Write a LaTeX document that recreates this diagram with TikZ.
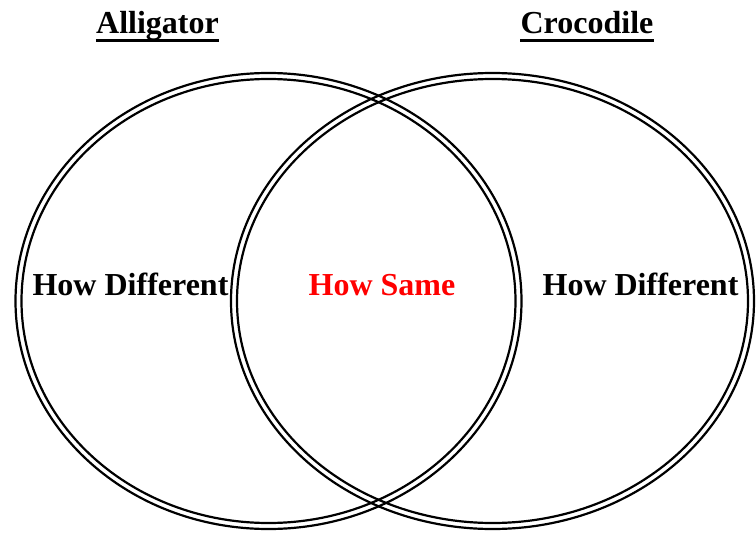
\documentclass[tikz,border=0pt]{standalone}
\usepackage{fontspec}
\setmainfont{Liberation Serif}
\begin{document}
\begin{tikzpicture}[x=1pt,y=-1pt,
  ring/.style={draw=black,line width=2.2pt},
  lbl/.style={font=\fontsize{32}{36}\selectfont\bfseries,anchor=base,inner sep=0pt},
  uline/.style={line width=3pt}]
\useasboundingbox (0,0) rectangle (756,533);
% left ellipse (double line)
\draw[ring] (268.5,301) ellipse [x radius=253, y radius=228];
\draw[ring] (268.5,301) ellipse [x radius=247, y radius=222];
% right ellipse (double line)
\draw[ring] (492.5,301) ellipse [x radius=261.5, y radius=228];
\draw[ring] (492.5,301) ellipse [x radius=255.5, y radius=222];
% titles
\node[lbl] (alli) at (157.5,33) {Alligator};
\node[lbl] (croc) at (587,33) {Crocodile};
\draw[uline] ([yshift=-7pt]alli.base west) -- ([yshift=-7pt]alli.base east);
\draw[uline] ([yshift=-7pt]croc.base west) -- ([yshift=-7pt]croc.base east);
% region labels
\node[lbl] (ldiff) at (130.5,295) {How Different};
\node[lbl,text=red] (same) at (382,295) {How Same};
\node[lbl] (rdiff) at (640.5,295) {How Different};
\end{tikzpicture}
\end{document}
